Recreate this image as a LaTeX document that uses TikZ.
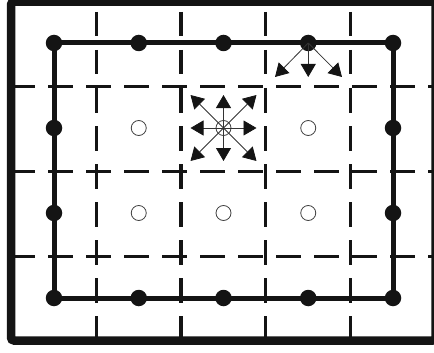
\documentclass[tikz,border=0pt]{standalone}
\usetikzlibrary{arrows.meta}
\begin{document}
\begin{tikzpicture}[x=1pt,y=-1pt,
  gridline/.style={line width=3.3pt, dash pattern=on 24.5pt off 13.5pt, draw=black!92},
  wall/.style={line width=5pt, draw=black!92, line join=round},
  frame/.style={line width=8.5pt, draw=black!92, rounded corners=3pt},
  dot/.style={circle, fill=black!92, minimum size=16.5pt, inner sep=0pt},
  hole/.style={circle, draw=black!75, line width=0.8pt, minimum size=15pt, inner sep=0pt},
  flow/.style={draw=black!80, line width=0.8pt, -{Triangle[length=13pt,width=15pt,color=black!92]}}]
\useasboundingbox (0,0) rectangle (434,353);
\clip (0,0) rectangle (434,353);
% dashed grid
\foreach \yy in {86.5,171.5,256.5} \draw[gridline] (10,\yy) -- (440,\yy);
\foreach \xx in {96.5,181,265.7,350.3} \draw[gridline] (\xx,12) -- (\xx,345);
% outer frame
\draw[frame] (11,1.75) rectangle (435.5,340.5);
% lattice coordinates
\coordinate (p00) at (54,43);
\coordinate (p40) at (393,43);
\coordinate (p43) at (393,298);
\coordinate (p03) at (54,298);
\draw[wall] (p00) -- (p40) -- (p43) -- (p03) -- cycle;
% dots on the solid boundary
\foreach \xx [count=\i] in {54,138.75,223.5,308.25,393} {
  \node[dot] (t\i) at (\xx,43) {};
  \node[dot] (b\i) at (\xx,298) {};
}
\foreach \yy [count=\j] in {128,213} {
  \node[dot] (l\j) at (54,\yy) {};
  \node[dot] (r\j) at (393,\yy) {};
}
% open circles
\node[hole] (h1) at (138.75,128) {};
\node[hole] (hc) at (223.5,128) {};
\node[hole] (h3) at (308.25,128) {};
\node[hole] (h4) at (138.75,213) {};
\node[hole] (h5) at (223.5,213) {};
\node[hole] (h6) at (308.25,213) {};
% arrow tips around the centre circle
\coordinate (aN) at (223.5,95);
\coordinate (aS) at (223.5,161);
\coordinate (aW) at (190.5,128);
\coordinate (aE) at (256.5,128);
\coordinate (aNW) at (190.5,95);
\coordinate (aNE) at (256.5,95);
\coordinate (aSW) at (190.5,161);
\coordinate (aSE) at (256.5,161);
\foreach \t in {aN,aS,aW,aE,aNW,aNE,aSW,aSE} \draw[flow] (hc.center) -- (\t);
% arrows from the boundary dot
\coordinate (bL) at (275,77);
\coordinate (bD) at (308.25,77);
\coordinate (bR) at (342,77);
\foreach \t in {bL,bD,bR} \draw[flow] (t4.center) -- (\t);
\end{tikzpicture}
\end{document}
